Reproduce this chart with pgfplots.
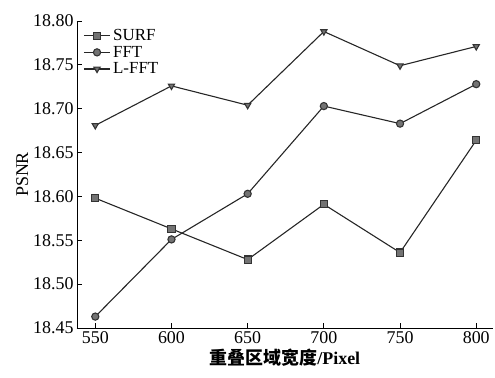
\documentclass[border=0pt]{standalone}
\usepackage{pgfplots}
\pgfplotsset{compat=1.18}
\usepackage{fontspec}
\setmainfont{Liberation Serif}
\newfontfamily\cjk{Noto Sans CJK SC}
\begin{document}
\begin{tikzpicture}
\begin{axis}[
  name=main,
  scale only axis,
  width=416bp, height=307bp,
  xmin=538, xmax=811, ymin=18.45, ymax=18.80,
  axis x line*=bottom, axis y line*=left,
  axis line style={line width=1pt, black},
  tick align=inside,
  major tick length=5bp,
  tick style={line width=0.8pt, black},
  xtick={550,600,650,700,750,800},
  ytick={18.45,18.50,18.55,18.60,18.65,18.70,18.75,18.80},
  /pgf/number format/assume math mode=true,
  y tick label style={/pgf/number format/.cd, fixed, fixed zerofill, precision=2},
  x tick label style={/pgf/number format/.cd, set thousands separator={}},
  ticklabel style={font=\fontsize{18}{20}\selectfont},
  xlabel={\bfseries{\cjk\bfseries 重叠区域宽度}/Pixel},
  ylabel={PSNR},
  label style={font=\fontsize{18}{20}\selectfont},
  xlabel style={yshift=2bp},
  ylabel style={yshift=-2bp},
  legend style={at={(0.015,0.975)}, anchor=north west, draw=none, fill=none,
    font=\fontsize{17}{17}\selectfont, row sep=3bp, inner sep=0bp,
    nodes={inner ysep=0.5bp, inner xsep=2.5bp}},
  legend cell align=left,
  legend image code/.code={\draw[mark repeat=2, mark phase=2]
     plot coordinates {(0cm,0cm) (0.46cm,0cm) (0.92cm,0cm)};},
  every axis plot/.append style={line width=1.1pt, black!85, mark size=3.6bp},
]
\addplot[mark=square*, mark options={fill=black!55, draw=black!80}] coordinates {
(550,18.598) (600,18.563) (650,18.528) (700,18.591) (750,18.536) (800,18.664)};
\addlegendentry{SURF}
\addplot[mark=*, mark options={fill=black!55, draw=black!80}] coordinates {
(550,18.463) (600,18.551) (650,18.603) (700,18.703) (750,18.683) (800,18.728)};
\addlegendentry{FFT}
\addplot[mark=triangle*, mark options={rotate=180, fill=black!55, draw=black!80}] coordinates {
(550,18.681) (600,18.726) (650,18.704) (700,18.788) (750,18.749) (800,18.771)};
\addlegendentry{L-FFT}
\end{axis}
\path (main.south west) +(-77bp,-50bp) (main.north east) +(2bp,21bp);
\end{tikzpicture}
\end{document}
